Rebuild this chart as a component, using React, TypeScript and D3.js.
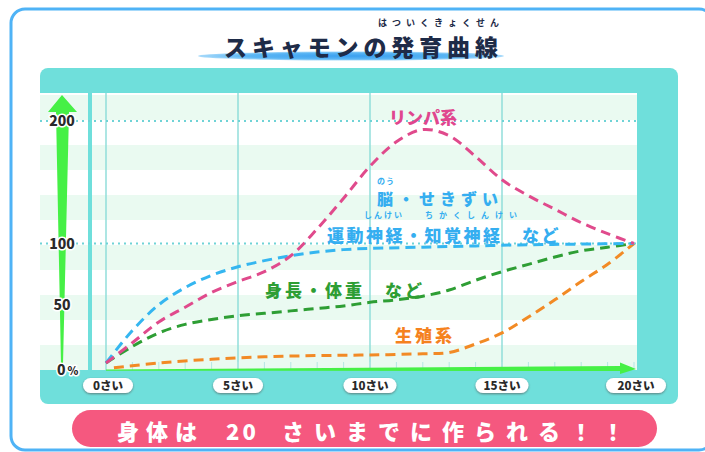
import React from 'react'
import * as d3 from 'd3'

// ages (さい) and growth values (% of the size at 20)
const lymphAges = [0, 1, 2, 3, 4, 5, 6, 7, 8, 9, 10, 11, 12, 13, 14, 15, 16, 17, 18, 19, 20]
const lymphVals = [2.5, 19, 36, 48, 60, 69, 77, 90, 112, 137, 163, 183, 193, 188, 171, 152, 139, 128, 117, 108, 100]

const brainAges = [0, 1, 2, 3, 4, 5, 6, 7, 8, 9, 10, 12, 14, 16, 18, 20]
const brainVals = [2.5, 29, 50, 64, 74, 81, 86, 90, 93, 95, 96, 97, 98, 99, 99.5, 100]

const generalAges = [0, 1, 2, 3, 4, 5, 6, 7, 8, 9, 10, 11, 12, 13, 14, 15, 16, 17, 18, 19, 20]
const generalVals = [2.5, 16, 27, 34, 38, 41, 43, 45, 47, 49, 52, 54, 57, 62, 70, 77, 83, 89, 94, 97, 100]

const reproAges = [0.3, 2, 4, 6, 8, 10, 12, 13, 14, 15, 16, 17, 18, 19, 20]
const reproVals = [-1.5, 2.5, 5.5, 7.5, 8.5, 9, 10, 11, 18, 27, 40, 54, 69, 83, 100]

const yTicks = [0, 50, 100, 200]
const yTickLabels = ['0', '50', '100', '200']
const dottedLevels = [100, 200]
const xTicks = [0, 5, 10, 15, 20]
const xTickLabels = ['0さい', '5さい', '10さい', '15さい', '20さい']
const gridAges = [0, 5, 10, 15]
const minorAges = d3.range(0, 21)

const JP = '"Noto Sans CJK JP", "Noto Sans", sans-serif'

export default function App() {
  const x = d3.scaleLinear().domain([0, 20]).range([106, 634])
  const y = d3.scaleLinear().domain([0, 200]).range([366, 121])

  const plotL = 40, plotR = 637, plotT = 93, plotB = 370

  const line = d3.line<[number, number]>()
    .x(d => x(d[0]))
    .y(d => y(d[1]))
    .curve(d3.curveCatmullRom.alpha(0.5))

  const zip = (a: number[], b: number[]) => a.map((v, i) => [v, b[i]] as [number, number])

  const series = [
    { color: '#f28a25', pts: zip(reproAges, reproVals) },
    { color: '#2e9e34', pts: zip(generalAges, generalVals) },
    { color: '#35b6f0', pts: zip(brainAges, brainVals) },
    { color: '#e04a8c', pts: zip(lymphAges, lymphVals) },
  ]

  // background stripes (25px bands from the bottom)
  const bands: number[] = []
  for (let b = plotB; b > plotT; b -= 50) bands.push(b)

  const halo = { paintOrder: 'stroke' as const, stroke: '#fff', strokeWidth: 3, strokeLinejoin: 'round' as const }

  return (
    <div style={{ position: 'absolute', left: 0, top: 0 }}>
      <svg width={705} height={452} style={{ display: 'block', fontFamily: JP }}>
        <defs>
          <radialGradient id="ul" cx="50%" cy="50%" r="50%">
            <stop offset="0%" stopColor="#3aa0f0" />
            <stop offset="70%" stopColor="#5bb6f4" />
            <stop offset="100%" stopColor="#a8dafa" />
          </radialGradient>
          <filter id="sh" x="-20%" y="-40%" width="140%" height="180%">
            <feDropShadow dx="0" dy="1" stdDeviation="0.8" floodColor="#555" floodOpacity="0.7" />
          </filter>
        </defs>

        {/* outer frame */}
        <rect x={11} y={9} width={702} height={441} rx={14} fill="#fff" stroke="#4fb3f6" strokeWidth={3} />

        {/* title */}
        <ellipse cx={351} cy={56} rx={153} ry={4.5} fill="url(#ul)" />
        <text x={378} y={26} fontSize={9} fontWeight={700} fill="#1e2b48" letterSpacing={5}>はついくきょくせん</text>
        <text x={224} y={56} fontSize={23} fontWeight={900} fill="#1e2b48"
          textLength={274} lengthAdjust="spacing">スキャモンの発育曲線</text>

        {/* teal panel */}
        <rect x={40} y={68} width={638} height={336} rx={8} fill="#6fdfdb" />
        <rect x={plotL} y={plotT} width={plotR - plotL} height={plotB - plotT} fill="#fff" />
        {bands.map(b => (
          <rect key={b} x={plotL} y={Math.max(plotT, b - 25)} width={plotR - plotL}
            height={b - Math.max(plotT, b - 25)} fill="#eafaf1" />
        ))}

        {/* vertical bar + grid lines */}
        <rect x={88} y={plotT} width={4} height={plotB - plotT} fill="#6fdfdb" />
        {gridAges.map(a => (
          <line key={a} x1={x(a)} x2={x(a)} y1={plotT} y2={plotB} stroke="#8adcd8" strokeWidth={1.4} />
        ))}
        {minorAges.map(a => (
          <line key={'m' + a} x1={x(a)} x2={x(a)} y1={plotB - 8} y2={plotB} stroke="#b5e6e3" strokeWidth={1} />
        ))}
        {dottedLevels.map(v => (
          <line key={v} x1={plotL} x2={plotR} y1={y(v)} y2={y(v)} stroke="#6fd3d6"
            strokeWidth={2} strokeDasharray="2,4" />
        ))}

        {/* green axis arrows */}
        <path d={`M61,${plotB - 6} L56,112 L48,112 L62,95 L77,112 L69,112 L63,${plotB - 6} Z`} fill="#46f046" />
        <path d={`M${x(0)},${plotB - 0.5} L620,366 L620,362.5 L636,369 L620,374 L620,371 L${x(0)},${plotB + 0.8} Z`} fill="#46f046" />

        {/* curves */}
        {series.map(s => (
          <path key={s.color} d={line(s.pts) || ''} fill="none" stroke={s.color} strokeWidth={3}
            strokeDasharray="10,6" strokeLinecap="butt" />
        ))}

        {/* y labels */}
        {yTicks.map((v, i) => v === 0 ? (
          <text key={v} x={57} y={plotB + 5} fontSize={14} fontWeight={800} fill="#2a2a2a" style={halo}>
            0<tspan fontSize={11} dx={2}>%</tspan>
          </text>
        ) : (
          <text key={v} x={62} y={y(v) + 5} textAnchor="middle" fontSize={14} fontWeight={800}
            fill="#2a2a2a" style={halo}>{yTickLabels[i]}</text>
        ))}

        {/* x labels */}
        {xTicks.map((a, i) => {
          const w = i === 0 || i === 1 ? 50 : i === 4 ? 60 : 53
          const cx = x(a) + (i === 0 ? 2 : i === 4 ? 2 : 0)
          return (
            <g key={a}>
              <rect x={cx - w / 2} y={378} width={w} height={15} rx={7.5} fill="#fff" filter="url(#sh)" />
              <text x={cx} y={390} textAnchor="middle" fontSize={11.5} fontWeight={800} fill="#2a2a2a">
                {xTickLabels[i]}
              </text>
            </g>
          )
        })}

        {/* series labels */}
        <text x={423} y={124} textAnchor="middle" fontSize={17} fontWeight={800} fill="#e0468e">リンパ系</text>
        <text x={377} y={184} fontSize={8} fontWeight={700} fill="#35aef0" letterSpacing={1}>のう</text>
        <text x={377} y={205} fontSize={16} fontWeight={800} fill="#35aef0" letterSpacing={5}>脳・せきずい</text>
        <text x={364} y={218} fontSize={8} fontWeight={700} fill="#35aef0" letterSpacing={2}>しんけい</text>
        <text x={425} y={218} fontSize={8} fontWeight={700} fill="#35aef0" letterSpacing={6}>ちかくしんけい</text>
        <text x={327} y={242} fontSize={17} fontWeight={800} fill="#35aef0" letterSpacing={2.5}>運動神経・知覚神経　など</text>
        <text x={265} y={297} fontSize={17} fontWeight={800} fill="#2e9e34" letterSpacing={3}>身長・体重　など</text>
        <text x={395} y={342} fontSize={17} fontWeight={800} fill="#f5821f" letterSpacing={3}>生殖系</text>

        {/* bottom banner */}
        <rect x={72} y={410} width={585} height={37} rx={18.5} fill="#f5587f" />
        <g fontSize={22} fontWeight={800} fill="#fff">
          <text x={117} y={440} letterSpacing={7}>身体は</text>
          <text x={226} y={440} letterSpacing={3}>20</text>
          <text x={282} y={440} letterSpacing={10}>さいまでに作られる！！</text>
        </g>
      </svg>
    </div>
  )
}
